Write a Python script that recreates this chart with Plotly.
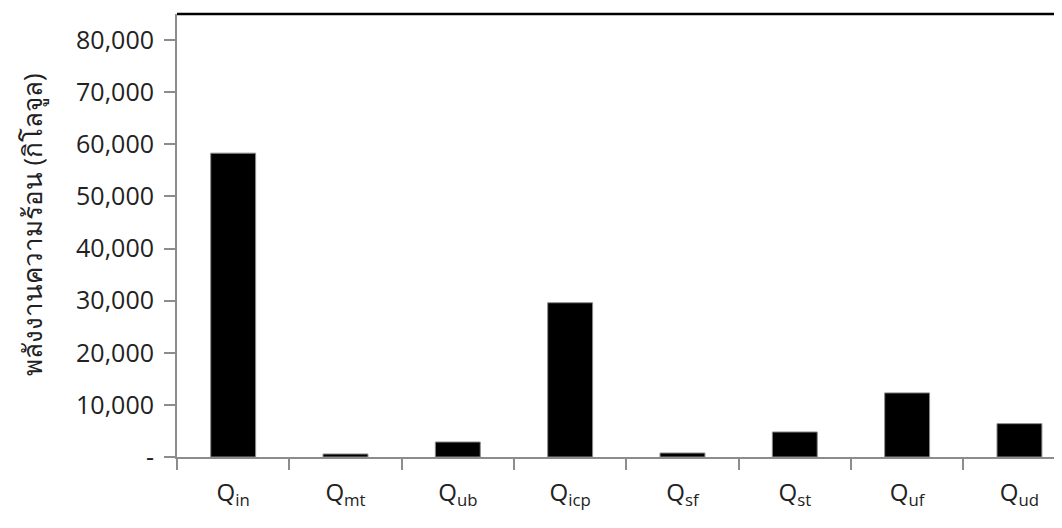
import plotly.graph_objects as go

categories = ["Q<sub>in</sub>", "Q<sub>mt</sub>", "Q<sub>ub</sub>", "Q<sub>icp</sub>",
              "Q<sub>sf</sub>", "Q<sub>st</sub>", "Q<sub>uf</sub>", "Q<sub>ud</sub>"]
values = [58300, 580, 2880, 29600, 770, 4800, 12300, 6400]
y_tickvals = [0, 10000, 20000, 30000, 40000, 50000, 60000, 70000, 80000]
y_ticktext = ["-", "10,000", "20,000", "30,000", "40,000", "50,000", "60,000", "70,000", "80,000"]
y_title = "พลังงานความร้อน (กิโลจูล)"

font_family = "Open Sans, Noto Sans, sans-serif"

fig = go.Figure(go.Bar(
    x=categories, y=values,
    marker=dict(color="#000000", line=dict(color="#8c8c8c", width=1)),
    width=0.4,
))

fig.update_layout(
    width=1062, height=528,
    margin=dict(l=169, r=0, t=6, b=79),
    paper_bgcolor="white", plot_bgcolor="white",
    font=dict(family=font_family, color="#000000", size=21),
    showlegend=False,
    shapes=[dict(type="line", xref="paper", yref="paper", x0=0, x1=1, y0=1, y1=1,
                 line=dict(color="#000000", width=2.5))],
    annotations=[dict(text=y_title, xref="paper", yref="paper", x=-0.163, y=0.524,
                      xanchor="center", yanchor="middle", textangle=-90, showarrow=False,
                      font=dict(size=26, family=font_family, color="#222222"))],
)

fig.update_xaxes(
    range=[-0.5, 7.45], automargin=False,
    showline=True, linecolor="#8c8c8c", linewidth=2,
    ticks="outside", tickson="boundaries", ticklen=11, tickcolor="#8c8c8c", tickwidth=1.5,
    ticklabelstandoff=13,
    tickfont=dict(size=24, family=font_family, color="#222222"),
    showgrid=False, zeroline=False,
)

fig.update_yaxes(
    range=[0, 85000], automargin=False,
    tickvals=y_tickvals, ticktext=y_ticktext,
    showline=True, linecolor="#8c8c8c", linewidth=2,
    ticks="outside", ticklen=11, tickcolor="#8c8c8c", tickwidth=1.5,
    ticklabelstandoff=5,
    tickfont=dict(size=25, family=font_family, color="#222222"),
    showgrid=False, zeroline=False,
)

fig.write_html("out.html")
